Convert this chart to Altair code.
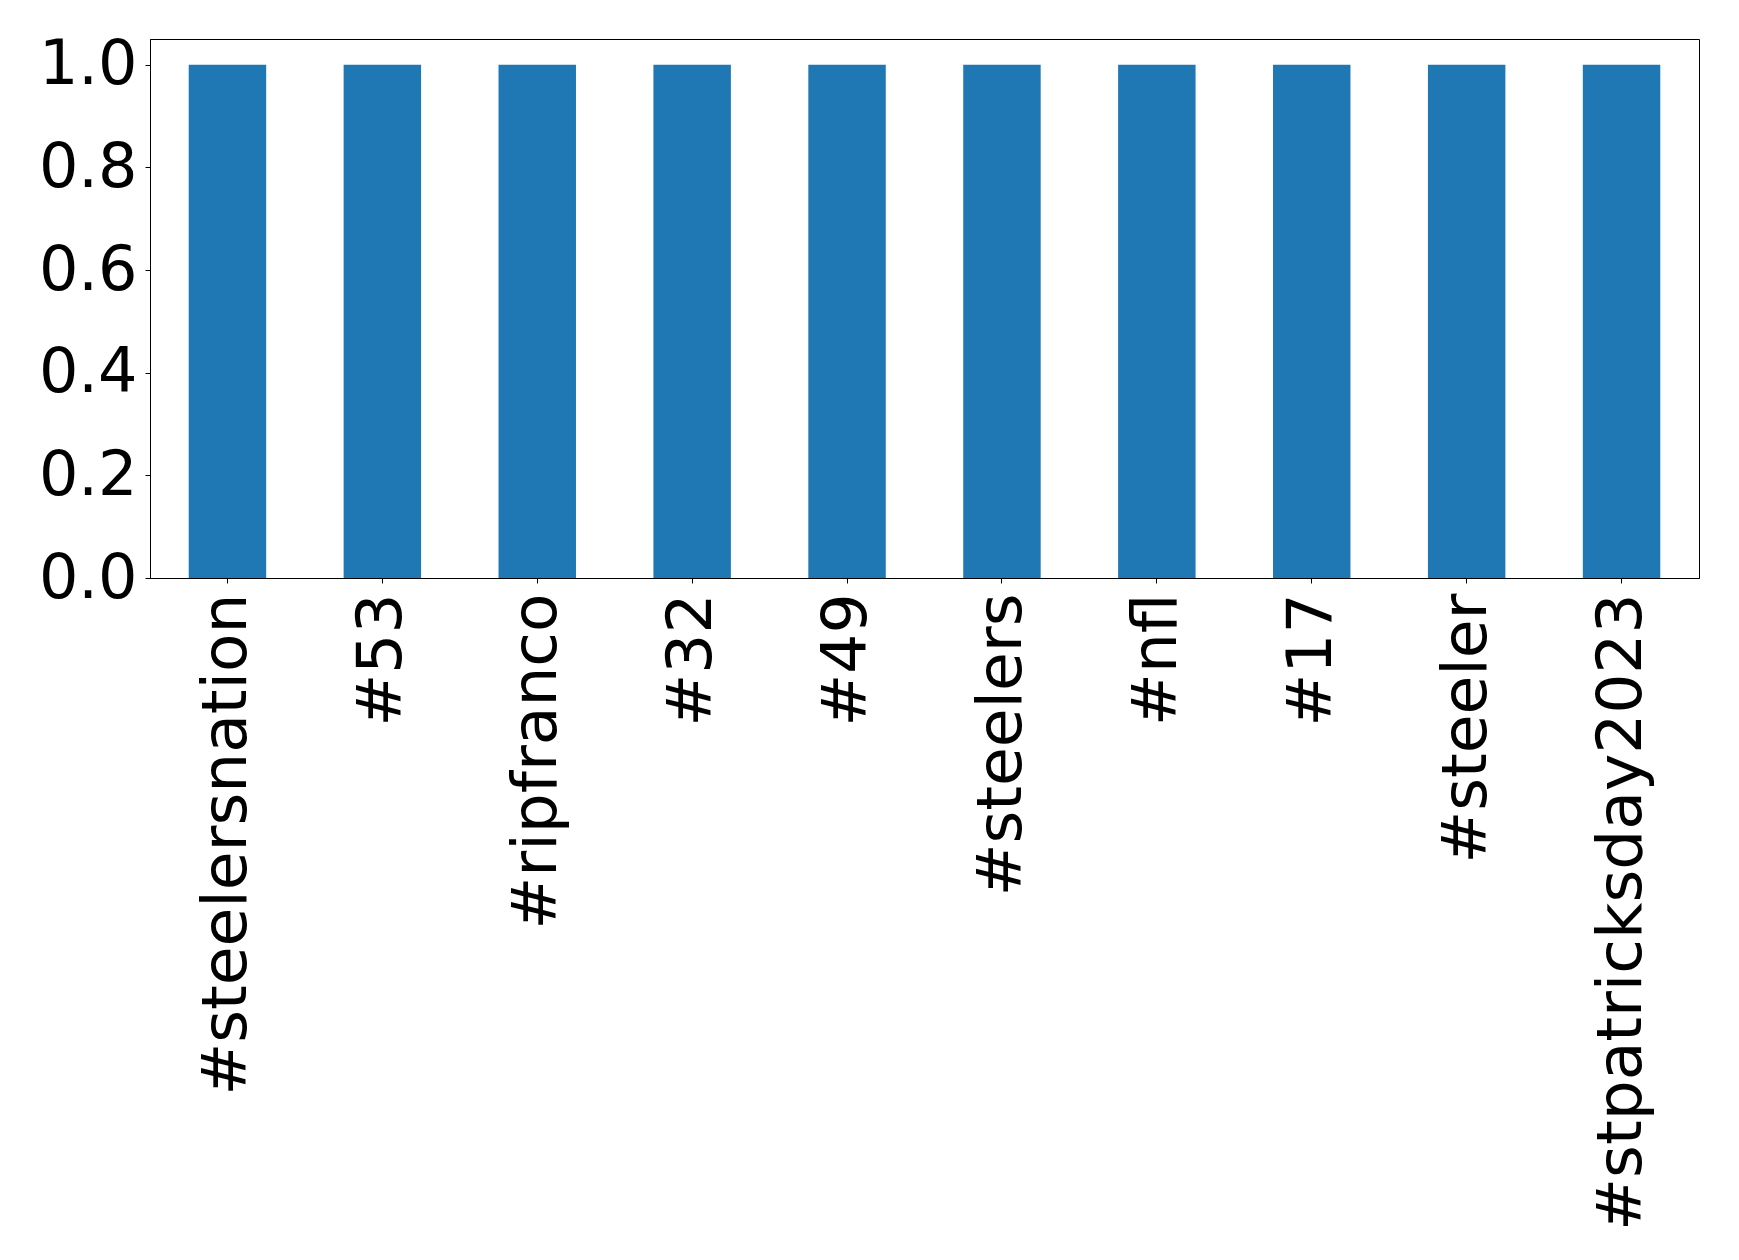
import altair as alt
import pandas as pd

hashtags = ["#steelersnation", "#53", "#ripfranco", "#32", "#49", "#steelers",
            "#nfl", "#17", "#steeler", "#stpatricksday2023"]
counts = [1, 1, 1, 1, 1, 1, 1, 1, 1, 1]

df = pd.DataFrame({"tag": hashtags, "count": counts})

chart = alt.Chart(df).mark_bar(color="#1f77b4").encode(
    x=alt.X("tag:N", sort=hashtags, title=None,
            scale=alt.Scale(paddingInner=0.5, paddingOuter=0.25),
            axis=alt.Axis(labelAngle=270, labelFont="DejaVu Sans", labelFontSize=63,
                          labelColor="black", domainColor="black", tickColor="black",
                          tickSize=5, labelPadding=10, labelLimit=0, labelOverlap=False)),
    y=alt.Y("count:Q", title=None,
            scale=alt.Scale(domain=[0, 1.05], nice=False),
            axis=alt.Axis(values=[0, 0.2, 0.4, 0.6, 0.8, 1.0], format=".1f",
                          labelFont="DejaVu Sans", labelFontSize=62, labelColor="black",
                          domainColor="black", tickColor="black", tickSize=5,
                          labelPadding=8, grid=False)),
).properties(
    width=1549, height=539,
    autosize=alt.AutoSizeParams(type="none"),
    padding={"left": 142, "top": 31, "right": 30, "bottom": 660},
).configure_view(stroke="black", strokeWidth=1)

chart.save("out.html", embed_options={"renderer": "svg", "actions": False})
